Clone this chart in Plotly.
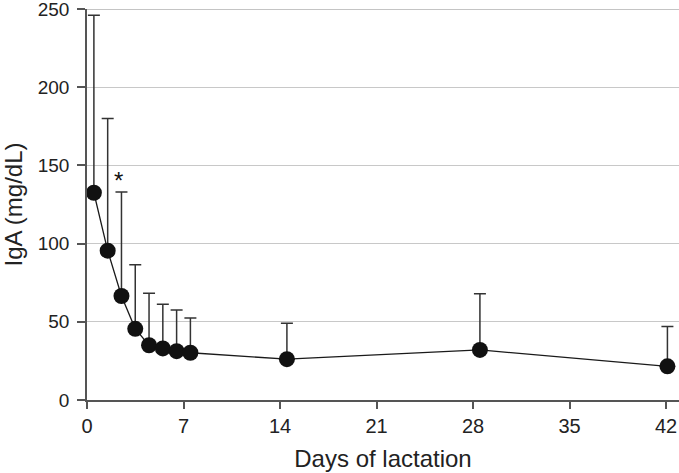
import plotly.graph_objects as go

days = [0.5, 1.5, 2.5, 3.5, 4.5, 5.5, 6.5, 7.5, 14.5, 28.5, 42.1]
iga_mean = [132.5, 95.5, 66.5, 45.5, 35, 33, 31.2, 30.2, 26.1, 32, 21.5]
iga_upper = [246, 180, 133, 86.5, 68.3, 61.3, 57.5, 52.5, 49, 68, 47]
err_plus = [u - m for u, m in zip(iga_upper, iga_mean)]

x_ticks = [0, 7, 14, 21, 28, 35, 42]
y_ticks = [0, 50, 100, 150, 200, 250]

FONT = "Liberation Sans, Arial, sans-serif"

fig = go.Figure()
fig.add_trace(go.Scatter(
    x=days, y=iga_mean, mode="lines+markers",
    line=dict(color="#1a1a1a", width=1.3),
    marker=dict(size=16, color="#111111"),
    error_y=dict(type="data", symmetric=False, array=err_plus,
                 arrayminus=[0]*len(days), color="#333333",
                 thickness=1.5, width=6),
    showlegend=False, cliponaxis=False,
))

fig.add_annotation(x=2.3, y=140.5, text="*", showarrow=False,
                   font=dict(size=24, color="#111111", family=FONT))

# top reference line at y=250 (gray gridline shown in the reference)
fig.add_shape(type="line", xref="paper", yref="y", x0=0, x1=1, y0=250, y1=250,
              line=dict(color="#b0b0b0", width=1.5), layer="below")

fig.update_layout(
    width=679, height=473,
    margin=dict(l=87, r=0, t=9, b=73, autoexpand=False),
    paper_bgcolor="white", plot_bgcolor="white",
    font=dict(family=FONT, color="#222222", size=19),
    xaxis=dict(range=[0, 42.94], tickvals=x_ticks, showgrid=False, zeroline=False,
               showline=True, linecolor="#555555", linewidth=1.5,
               ticks="outside", ticklen=7, tickcolor="#555555", tickwidth=1.5,
               automargin=False, ticklabeloverflow="allow",
               title=dict(text="Days of lactation", font=dict(size=24), standoff=14),
               tickfont=dict(size=20)),
    yaxis=dict(range=[0, 250], tickvals=y_ticks, showgrid=True, gridcolor="#c8c8c8",
               gridwidth=1, zeroline=False,
               showline=True, linecolor="#555555", linewidth=1.5,
               ticks="outside", ticklen=8, tickcolor="#555555", tickwidth=1.5,
               automargin=False, ticklabeloverflow="allow", ticklabelstandoff=4,
               title=dict(text="IgA (mg/dL)", font=dict(size=24), standoff=19),
               tickfont=dict(size=19)),
)

fig.write_html("out.html", config={"displayModeBar": False},
               post_script="document.body.style.margin='0';")
